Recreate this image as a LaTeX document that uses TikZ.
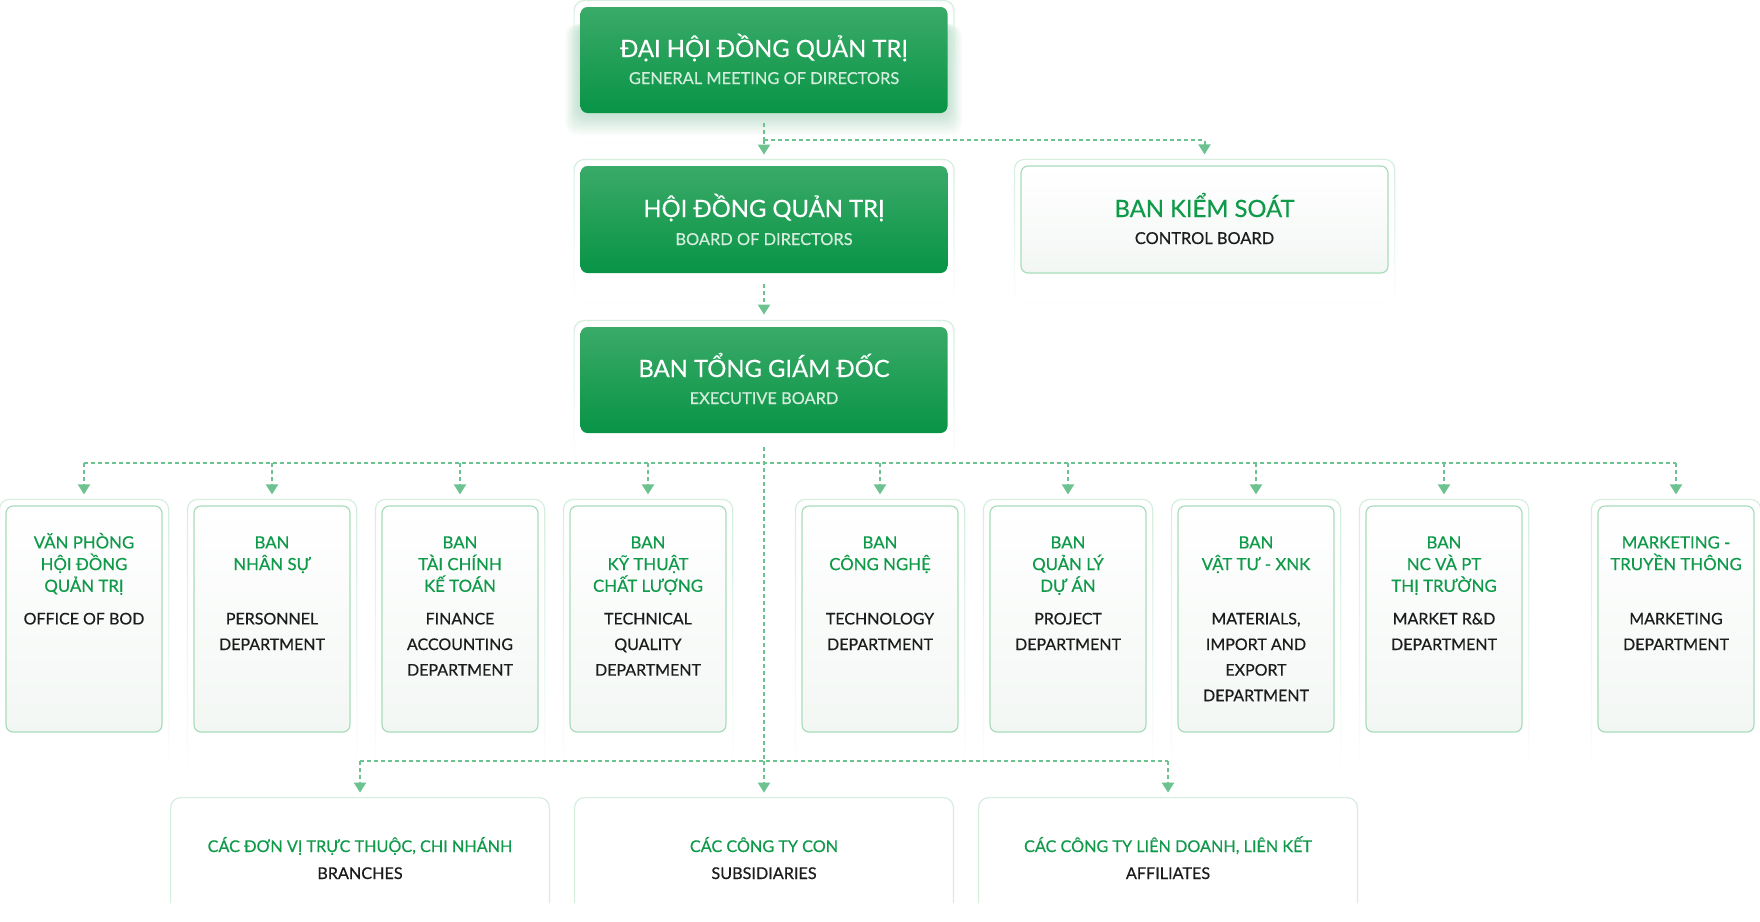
\documentclass[tikz,border=0pt]{standalone}
\usepackage{fontspec}
\setmainfont{Lato}[FakeBold=0.5]
\newfontfamily\medfont{Lato}[FakeBold=0.5]
\usetikzlibrary{arrows.meta, fadings}

\definecolor{gDark}{HTML}{089446}
\definecolor{gLight}{HTML}{3AAA68}
\definecolor{gText}{HTML}{0F9A4A}
\definecolor{gLine}{HTML}{6CC38F}
\definecolor{gFrame}{HTML}{D5EEDE}
\definecolor{gBorder}{HTML}{A8DDBB}
\definecolor{subText}{HTML}{D4EDDC}
\definecolor{dark}{HTML}{1C1C1C}
\definecolor{paleBot}{HTML}{F3F7F4}

\tikzfading[name=fadedown, top color=transparent!0, middle color=transparent!0, bottom color=transparent!100]

\begin{document}
\begin{tikzpicture}[x=0.5pt, y=-0.5pt,
    dline/.style={draw=gLine, line width=1pt, dash pattern=on 2pt off 1.5pt},
    arr/.style={dline, -{Triangle[width=6pt,length=5pt]}},
    greenbox/.style={rounded corners=3.5pt, top color=gLight, bottom color=gDark,
        minimum width=183.5pt, minimum height=53pt, inner sep=0pt},
    whitebox/.style={rounded corners=3.5pt, draw=gBorder, line width=0.6pt,
        top color=white, bottom color=paleBot, inner sep=0pt},
    frame/.style={draw=gFrame, line width=0.6pt, rounded corners=5pt, path fading=fadedown},
    ttl/.style={anchor=base, inner sep=0pt, text=white, font=\medfont\fontsize{11.9}{14}\selectfont},
    sub/.style={anchor=base, inner sep=0pt, text=subText, font=\medfont\fontsize{8.2}{10}\selectfont},
    dtitle/.style={anchor=north, inner sep=0pt, align=center, text=gText,
        font=\medfont\fontsize{8.4}{10.85}\selectfont},
    dsub/.style={anchor=north, inner sep=0pt, align=center, text=dark,
        font=\medfont\fontsize{8.0}{12.8}\selectfont}
]
\fill[white] (0,0) rectangle (1760,921);
\useasboundingbox (0,0) rectangle (1760,921);

% soft glow under the top box
\foreach \s in {1,...,10}
    \fill[gDark, opacity=0.022, rounded corners=6pt] (580-1.5*\s,24) rectangle (947+1.5*\s,113+2.2*\s);

% top level boxes
\node[greenbox] (gm) at (764,60) {};
\node[greenbox, minimum height=53.5pt] (bod) at (764,219.5) {};
\node[greenbox] (ex) at (764,380) {};
\node[whitebox, minimum width=183.5pt, minimum height=53.5pt] (cb) at (1204.5,219.5) {};

\draw[frame] ([shift={(-6,-6)}]gm.north west) rectangle ([shift={(6,30)}]gm.south east);
\foreach \b in {bod,ex,cb}
    \draw[frame] ([shift={(-6,-6)}]\b.north west) rectangle ([shift={(6,30)}]\b.south east);

\node[ttl] (gmt) at (764,57) {ĐẠI HỘI ĐỒNG QUẢN TRỊ};
\node[sub] (gms) at (764,84) {GENERAL MEETING OF DIRECTORS};
\node[ttl] (bodt) at (764,217) {HỘI ĐỒNG QUẢN TRỊ};
\node[sub] (bods) at (764,245) {BOARD OF DIRECTORS};
\node[ttl] (ext) at (764,377) {BAN TỔNG GIÁM ĐỐC};
\node[sub] (exs) at (764,404) {EXECUTIVE BOARD};
\node[ttl, text=gText] (cbt) at (1204.5,217) {BAN KIỂM SOÁT};
\node[sub, text=dark] (cbs) at (1204.5,244) {CONTROL BOARD};

% departments (the rule fixes the height of the first line)
\foreach \i/\cx/\vn/\en in {
    1/84/{VĂN PHÒNG\\HỘI ĐỒNG\\QUẢN TRỊ}/{OFFICE OF BOD},
    2/272/{BAN\\NHÂN SỰ}/{PERSONNEL\\DEPARTMENT},
    3/460/{BAN\\TÀI CHÍNH\\KẾ TOÁN}/{FINANCE\\ACCOUNTING\\DEPARTMENT},
    4/648/{BAN\\KỸ THUẬT\\CHẤT LƯỢNG}/{TECHNICAL\\QUALITY\\DEPARTMENT},
    5/880/{BAN\\CÔNG NGHỆ}/{TECHNOLOGY\\DEPARTMENT},
    6/1068/{BAN\\QUẢN LÝ\\DỰ ÁN}/{PROJECT\\DEPARTMENT},
    7/1256/{BAN\\VẬT TƯ - XNK}/{MATERIALS,\\IMPORT AND\\EXPORT\\DEPARTMENT},
    8/1444/{BAN\\NC VÀ PT\\THỊ TRƯỜNG}/{MARKET R\&D\\DEPARTMENT},
    9/1676/{MARKETING -\\TRUYỀN THÔNG}/{MARKETING\\DEPARTMENT}} {
    \node[whitebox, minimum width=78pt, minimum height=113pt] (d\i) at (\cx,619) {};
    \draw[frame] ([shift={(-6,-6)}]d\i.north west) rectangle ([shift={(6,40)}]d\i.south east);
    \node[dtitle] (t\i) at (\cx,526) {\rule{0pt}{11pt}\vn};
    \node[dsub] (s\i) at (\cx,602) {\rule{0pt}{11pt}\en};
}

% subsidiaries row
\foreach \i/\cx/\vn/\en in {
    1/360/{CÁC ĐƠN VỊ TRỰC THUỘC, CHI NHÁNH}/BRANCHES,
    2/764/{CÁC CÔNG TY CON}/SUBSIDIARIES,
    3/1168/{CÁC CÔNG TY LIÊN DOANH, LIÊN KẾT}/AFFILIATES} {
    \node[minimum width=189pt, minimum height=52.5pt, inner sep=0pt] (b\i) at (\cx,850.5) {};
    \draw[draw=gFrame, line width=0.6pt, rounded corners=5pt]
        (b\i.south west) -- (b\i.north west) -- (b\i.north east) -- (b\i.south east);
    \node[dtitle, anchor=base, font=\medfont\fontsize{8.1}{10}\selectfont] (bt\i) at (\cx,852) {\vn};
    \node[dsub, anchor=base, font=\medfont\fontsize{8.1}{10}\selectfont] (bs\i) at (\cx,879) {\en};
}

% connectors
\coordinate (j1) at (764,140);
\coordinate (hb) at (764,463);
\coordinate (j3) at (764,761);
\draw[dline, shorten <=5pt] (gm.south) -- (j1);
\draw[arr, shorten >=5.5pt] (j1) -- (bod.north);
\draw[arr, shorten >=5.5pt] (j1) -| (cb.north);
\draw[arr, shorten <=5.5pt, shorten >=6pt] (bod.south) -- (ex.north);
\draw[dline, shorten <=7pt] (ex.south) -- (j3);
\draw[dline] (d1.north |- hb) -- (d9.north |- hb);
\foreach \i in {1,...,9}
    \draw[arr, shorten >=5.5pt] (d\i.north |- hb) -- (d\i.north);
\draw[dline] (b1.north |- j3) -- (b3.north |- j3);
\foreach \i in {1,2,3}
    \draw[arr, shorten >=2.5pt] (b\i.north |- j3) -- (b\i.north);
\end{tikzpicture}
\end{document}
